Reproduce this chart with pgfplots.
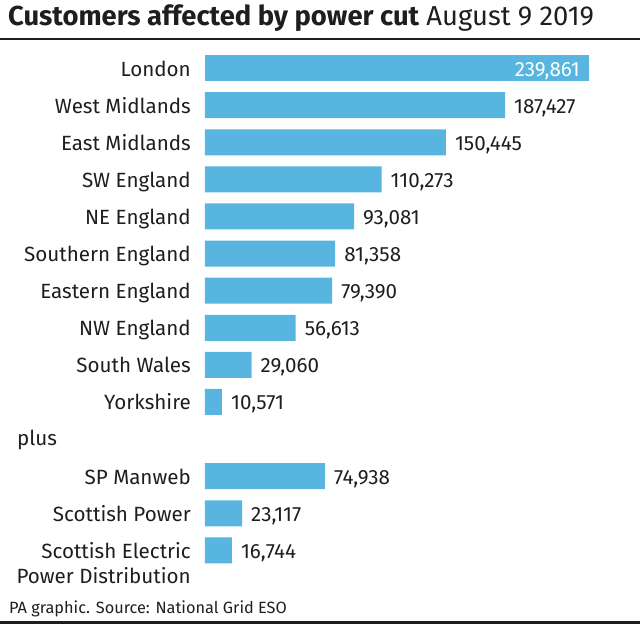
\documentclass[border=0pt]{standalone}
\usepackage{fontspec}
\setmainfont{Fira Sans}
\usepackage{pgfplots}
\pgfplotsset{compat=1.18}
\definecolor{barblue}{RGB}{87,181,223}
\definecolor{txt}{RGB}{30,30,30}
\begin{document}
\begin{tikzpicture}
\path[use as bounding box] (0,0) rectangle (640pt,-625pt);
\node[anchor=base west, inner sep=0pt, text=txt] at (8pt,-25pt) {\fontsize{27.4}{28}\selectfont\bfseries Customers affected by power cut\mdseries\ August 9 2019};
\draw[line width=2pt, color=txt] (0pt,-38.5pt) -- (640pt,-38.5pt);
\begin{axis}[
  at={(205pt,-49.5pt)}, anchor=north west,
  scale only axis, width=416.2pt, height=519.4pt,
  xmin=0, xmax=260000, ymin=-0.5, ymax=13.5,
  y dir=reverse,
  xbar, bar width=26pt, bar shift=0pt,
  axis line style={draw=none},
  xtick=\empty,
  ytick={0,1,2,3,4,5,6,7,8,9,11,12,13},
  yticklabels={London, West Midlands, East Midlands, SW England, NE England, Southern England, Eastern England, NW England, South Wales, Yorkshire, SP Manweb, Scottish Power, {\begin{tabular}[t]{@{}r@{}}Scottish Electric\\Power Distribution\end{tabular}}},
  major tick length=0pt,
  yticklabel style={anchor=base east, inner sep=0pt, xshift=-14pt, yshift=-8pt, text=txt, font=\fontsize{20.6}{25}\selectfont},
  clip=false,
  point meta=x,
  nodes near coords={\pgfmathprintnumber[fixed, precision=0, 1000 sep={,}, assume math mode=true]{\pgfplotspointmeta}},
]
\addplot[fill=barblue, draw=none,
  every node near coord/.append style={anchor=base west, inner sep=0pt, xshift=9pt, yshift=-8pt, text=txt, font=\fontsize{20.6}{25}\selectfont}]
  coordinates {(187427,1) (150445,2) (110273,3) (93081,4) (81358,5) (79390,6) (56613,7) (29060,8) (10571,9) (74938,11) (23117,12) (16744,13)};
\addplot[fill=barblue, draw=none,
  every node near coord/.append style={anchor=base east, inner sep=0pt, xshift=-9pt, yshift=-8pt, text=white, font=\fontsize{20.6}{25}\selectfont}]
  coordinates {(239861,0)};
\end{axis}
\node[anchor=base west, inner sep=0pt, text=txt] at (17pt,-445.5pt) {\fontsize{20.6}{25}\selectfont plus};
\node[anchor=base west, inner sep=0pt, text=txt] at (9pt,-613pt) {\fontsize{16.3}{17}\selectfont PA graphic. Source: National Grid ESO};
\draw[line width=3pt, color=txt] (0pt,-622.5pt) -- (640pt,-622.5pt);
\end{tikzpicture}
\end{document}
